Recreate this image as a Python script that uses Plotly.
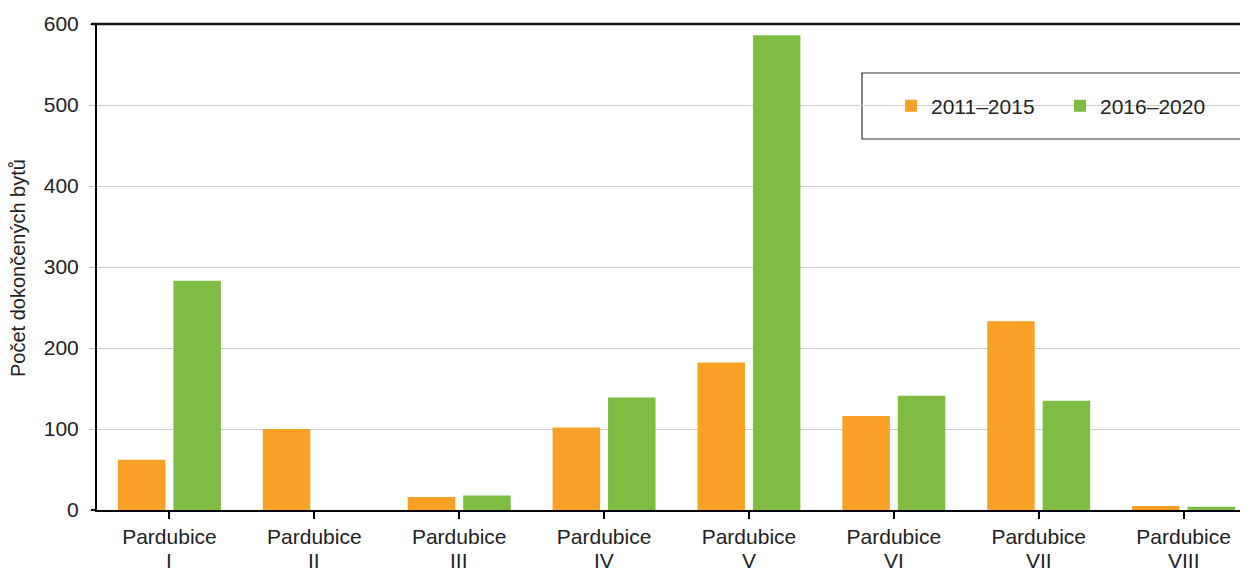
import plotly.graph_objects as go

category_names = ["Pardubice"] * 8
category_numerals = ["I", "II", "III", "IV", "V", "VI", "VII", "VIII"]
series_names = ["2011–2015", "2016–2020"]
values_2011_2015 = [62, 100, 16, 102, 182, 116, 233, 5]
values_2016_2020 = [283, 0, 18, 139, 586, 141, 135, 4]
y_ticks = [0, 100, 200, 300, 400, 500, 600]
y_title = "Počet dokončených bytů"

colors = ["#F8A126", "#7EBC43"]
FONT = "Liberation Sans, Arial, sans-serif"

OFF = 8  # default page body margin
W, H = 1248, 568
L, T, B = 97 - OFF, 24 - OFF, H - (510 - OFF)
plot_w = W - L
plot_h = H - T - B

xs = list(range(len(category_names)))

fig = go.Figure()
for name, vals, col in zip(series_names, [values_2011_2015, values_2016_2020], colors):
    fig.add_trace(go.Bar(x=xs, y=vals, name=name,
                         marker=dict(color=col, line=dict(width=0))))

def px2paper_x(sx):
    return (sx - OFF - L) / plot_w

def px2paper_y(sy):
    return (H - B - (sy - OFF)) / plot_h

fig.update_layout(
    width=W, height=H,
    margin=dict(l=L, r=0, t=T, b=B, pad=0),
    paper_bgcolor="white", plot_bgcolor="white",
    barmode="group", bargap=0.234, bargroupgap=0.144,
    font=dict(family=FONT, size=21, color="#222222"),
    showlegend=True,
    legend=dict(orientation="h", x=px2paper_x(891), xanchor="left",
                y=px2paper_y(106), yanchor="middle",
                bgcolor="rgba(0,0,0,0)", borderwidth=0,
                font=dict(family=FONT, size=21, color="#222222"),
                entrywidth=124, entrywidthmode="pixels",
                itemsizing="constant"),
    xaxis=dict(range=[-0.5, 7.5], tickmode="array",
               tickvals=xs, ticktext=category_names,
               tickson="boundaries", ticks="outside", ticklen=7, tickwidth=2,
               tickcolor="black", showline=True, linecolor="black", linewidth=2,
               showgrid=False, zeroline=False,
               tickfont=dict(family=FONT, size=21, color="#222222")),
    yaxis=dict(range=[0, 600], tickvals=y_ticks, ticks="outside", ticklen=6,
               tickcolor="#bbbbbb", tickwidth=1, ticklabelstandoff=6,
               showline=True, linecolor="black", linewidth=2,
               showgrid=True, gridcolor="#cccccc", gridwidth=1.3,
               zeroline=False,
               tickfont=dict(family=FONT, size=21, color="#222222")),
)

# roman numerals as second line of category labels
for x, num in zip(xs, category_numerals):
    fig.add_annotation(text=num, xref="x", yref="paper", x=x, y=px2paper_y(560),
                       showarrow=False, xanchor="center", yanchor="middle",
                       font=dict(family=FONT, size=21, color="#222222"))

# dark top line at 600
fig.add_shape(type="line", xref="paper", yref="paper",
              x0=px2paper_x(91), x1=1.0, y0=1.0, y1=1.0,
              line=dict(color="#111111", width=2.5))
# left extension of x axis at 0
fig.add_shape(type="line", xref="paper", yref="paper",
              x0=px2paper_x(91), x1=0, y0=0, y1=0,
              line=dict(color="#111111", width=2))
# legend box
fig.add_shape(type="rect", xref="paper", yref="paper",
              x0=px2paper_x(862), x1=px2paper_x(1246),
              y0=px2paper_y(139), y1=px2paper_y(73),
              line=dict(color="#333333", width=1.2), fillcolor="white", layer="below")

fig.add_annotation(text=y_title, xref="paper", yref="paper",
                   x=px2paper_x(18), y=px2paper_y(268), textangle=-90,
                   showarrow=False, xanchor="center", yanchor="middle",
                   font=dict(family=FONT, size=20, color="#222222"))

fig.write_html("out.html")
